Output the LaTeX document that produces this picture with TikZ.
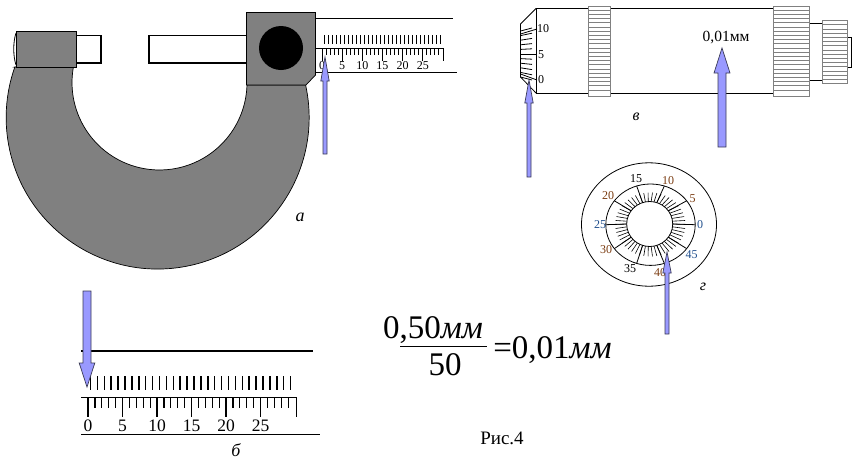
\documentclass[tikz,border=0pt]{standalone}
\usepackage{fontspec}
\setmainfont{Liberation Serif}
\definecolor{framegray}{HTML}{808080}
\definecolor{pointer}{HTML}{9999FF}
\definecolor{pointeredge}{HTML}{3A3A55}
\definecolor{numblue}{HTML}{1F4E8C}
\definecolor{numbrown}{HTML}{7A3B10}
\tikzset{
  body/.style={draw=black, line width=0.7pt, fill=framegray},
  rod/.style={draw=black, line width=1.6pt, fill=white},
  thin/.style={black, line width=0.8pt},
  knurl/.style={draw=framegray, line width=0.9pt, fill=white},
  pointerbar/.style={draw=pointeredge, line width=0.7pt, fill=pointer},
  num/.style={inner sep=0pt, font=\fontsize{12}{13}\selectfont},
  bignum/.style={inner sep=0pt, font=\fontsize{17.5}{19}\selectfont},
  tag/.style={inner sep=0pt, font=\fontsize{18}{20}\selectfont\itshape},
  formula/.style={inner sep=0pt, font=\fontsize{33}{37}\selectfont}
}
\begin{document}
\begin{tikzpicture}[x=1pt, y=-1pt]
  \useasboundingbox (0,0) rectangle (854,461);
  % micrometer frame
  \draw[body] (14.7,67) -- (73.4,67) arc[start angle=190.2, end angle=1.6, radius=87.5]
    -- (305.6,85) arc[start angle=-12.4, end angle=199.5, radius=151.5] -- cycle;
  \draw[thin] (16,33) .. controls (13,42) and (13,56) .. (16,65);
  \draw[rod] (76,35.5) rectangle (101,63);
  \draw[rod] (247,35.5) rectangle (149,63);
  \draw[body] (16,31.5) rectangle (76,67);
  \draw[body] (246.5,12.5) -- (315.5,12.5) -- (315.5,75) -- (306,85) -- (246.5,85) -- cycle;
  \fill[black] (281,48) circle[radius=22];
  % scale on the frame
  \draw[thin] (315.5,18.5) -- (453,18.5);
  \draw[thin] (315.5,48.5) -- (443,48.5) -- (443,60.5);
  \draw[thin] (315.5,72) -- (457,72);
  \foreach \k in {0,...,29}
    \draw[thin] (324+4*\k,35) -- (324+4*\k,43.5);
  \foreach \k in {0,...,29}
    \draw[thin] (322+4*\k,48.5) -- (322+4*\k,55);
  \foreach \k in {0,5,...,25}
    \draw[thin] (322+4*\k,48.5) -- (322+4*\k,60.5);
  \foreach \v in {0,5,...,25}
    \node[num] (sa\v) at (322+4.03*\v,66) {\v};
  \node[tag] (taga) at (300,217) {а};
  % enlarged scale
  \draw[black, line width=1.6pt] (81,351) -- (313,351);
  \foreach \k in {0,...,29}
    \draw[black, line width=1.5pt] (90.5+6.9*\k,376) -- (90.5+6.9*\k,390);
  \draw[thin] (81,397.5) -- (296,397.5) -- (296,417);
  \foreach \k in {0,...,29}
    \draw[black, line width=1.2pt] (88+6.9*\k,397.5) -- (88+6.9*\k,408);
  \foreach \k in {0,5,...,25}
    \draw[black, line width=1.2pt] (88+6.9*\k,397.5) -- (88+6.9*\k,417);
  \foreach \v in {0,5,...,25}
    \node[bignum] (sb\v) at (88+6.9*\v,425.5) {\v};
  \draw[thin] (81,434) -- (319.5,434);
  \node[tag] (tagb) at (236,450) {б};
  % barrel
  \draw[thin] (536,8.5) -- (773,8.5);
  \draw[thin] (536,93) -- (773,93);
  \draw[thin] (536,8.5) -- (536,93);
  \draw[thin] (536,8.5) -- (520.5,24) -- (520.5,77) -- (536,93);
  \draw[thin] (809,23.5) -- (823,23.5);
  \draw[thin] (809,80) -- (823,80);
  \draw[black, line width=1pt] (847,37.5) rectangle (851,67);
  \foreach \xa/\xb/\ya/\yb/\lines in {588/610/6/96/20, 773/809/6/96/20, 822.5/847/20.5/83/14}{
    \draw[knurl] (\xa,\ya) rectangle (\xb,\yb);
    \foreach \n in {1,...,\lines}
      \draw[framegray, line width=0.7pt] (\xa,\ya+4.2*\n) -- (\xb,\ya+4.2*\n);
  }
  % thimble divisions
  \foreach \k in {-5,...,5}
    \draw[thin] (520.5,54+4.6*\k) -- (532,54+5.2*\k);
  \draw[thin] (520.5,54) -- (537,54);
  \draw[thin] (520.5,34) -- (537,29);
  \draw[thin] (520.5,74) -- (537,80);
  \node[num] (sc10) at (543,29) {10};
  \node[num] (sc5) at (541,54.5) {5};
  \node[num] (sc0) at (541,80) {0};
  \node[inner sep=0pt, font=\fontsize{15.5}{17}\selectfont] (valuec) at (726,38) {0,01мм};
  \node[tag, font=\fontsize{16}{18}\selectfont\itshape] (tagc) at (636,117) {в};
  % dial
  \draw[thin] (649,224.5) ellipse[x radius=67.5, y radius=61.7];
  \draw[thin] (650.5,224.7) ellipse[x radius=44.7, y radius=40.7];
  \draw[thin] (649.7,224) ellipse[x radius=23, y radius=22.5];
  \foreach \k in {0,...,49}
    \draw[black, line width=0.6pt] ({649.7+23*cos(7.2*\k)},{224-22.5*sin(7.2*\k)})
      -- ({650.3+35*cos(7.2*\k)},{224.5-32*sin(7.2*\k)});
  \foreach \k in {0,5,...,45}
    \draw[thin] ({649.7+23*cos(7.2*\k)},{224-22.5*sin(7.2*\k)})
      -- ({650.5+44.7*cos(7.2*\k)},{224.7-40.7*sin(7.2*\k)});
  \foreach \v/\px/\py/\tint in {0/700/225/numblue, 5/692.7/199/numbrown, 10/668/181/numbrown,
      15/636/179/black, 20/608/196/numbrown, 25/600/225/numblue, 30/606/250/numbrown,
      35/630/269/black, 40/660/273/numbrown, 45/691.7/255/numblue}
    \node[num, text=\tint] (sd\v) at (\px,\py) {\v};
  \node[tag, font=\fontsize{16}{18}\selectfont\itshape] (tagd) at (703,287) {г};
  % formula
  \node[formula] (numer) at (433,330) {0,50\textit{мм}};
  \draw[black, line width=1pt] (400,346) -- (487,346);
  \node[formula] (denom) at (445,365) {50};
  \node[formula] (result) at (552.5,350) {=0,01\textit{мм}};
  \node[inner sep=0pt, font=\fontsize{19}{21}\selectfont] (caption) at (502,438) {Рис.4};
  % pointers: x, tip, head base, tail, head half, shaft half
  \foreach \x/\tip/\base/\tail/\hw/\sw in {325/57/81/154/4.2/2, 529/80/103/177/4.2/2,
      722/48/73/147/8/4, 667/252/273/334/4.2/2, 87/387/363/291/7.8/4}
    \draw[pointerbar] (\x,\tip) -- (\x+\hw,\base) -- (\x+\sw,\base) -- (\x+\sw,\tail)
      -- (\x-\sw,\tail) -- (\x-\sw,\base) -- (\x-\hw,\base) -- cycle;
\end{tikzpicture}
\end{document}
